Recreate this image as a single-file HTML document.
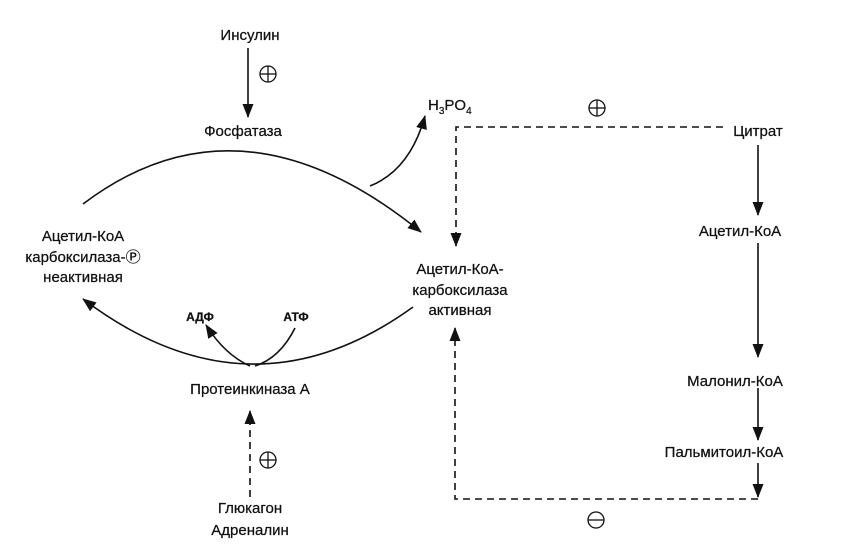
<!DOCTYPE html>
<html><head><meta charset="utf-8"><style>
html,body{margin:0;padding:0;background:#fff;}
svg{display:block;}
text{font-family:"Liberation Sans",sans-serif;font-size:15px;fill:#111;stroke:#111;stroke-width:0.25;}
</style></head><body>
<svg width="851" height="547" viewBox="0 0 851 547" xmlns="http://www.w3.org/2000/svg">
<defs>
<marker id="b" markerWidth="14" markerHeight="12" refX="13" refY="6" orient="auto" markerUnits="userSpaceOnUse">
<path d="M0,0.5 L14,6 L0,11.5 z" fill="#111"/></marker>
</defs>
<g stroke="#111" stroke-width="1.6" fill="none">
<line x1="248" y1="48" x2="248" y2="117" marker-end="url(#b)"/>
<path d="M83,204 Q240,85 421,232" marker-end="url(#b)"/>
<path d="M370,186 Q410,170 425,116" marker-end="url(#b)"/>
<path d="M413,307 Q250,425 83,299" marker-end="url(#b)"/>
<path d="M250,366 Q225,355 206,325" marker-end="url(#b)"/>
<path d="M295,328 Q280,358 255,366"/>
<line x1="758" y1="145" x2="758" y2="215" marker-end="url(#b)"/>
<line x1="758" y1="243" x2="758" y2="357" marker-end="url(#b)"/>
<line x1="758" y1="388" x2="758" y2="440" marker-end="url(#b)"/>
<line x1="758" y1="463" x2="758" y2="497" marker-end="url(#b)"/>
<g stroke-dasharray="7,5">
<path d="M723,127 L456,127 L456,246" marker-end="url(#b)"/>
<path d="M758,499 L455,499 L455,328" marker-end="url(#b)"/>
<line x1="250" y1="497" x2="250" y2="411" marker-end="url(#b)"/>
</g>
</g>
<g stroke="#111" stroke-width="1.3" fill="none">
<circle cx="268" cy="74" r="8"/><line x1="260" y1="74" x2="276" y2="74"/><line x1="268" y1="66" x2="268" y2="82"/>
<circle cx="597" cy="108" r="8"/><line x1="589" y1="108" x2="605" y2="108"/><line x1="597" y1="100" x2="597" y2="116"/>
<circle cx="268" cy="460" r="8"/><line x1="260" y1="460" x2="276" y2="460"/><line x1="268" y1="452" x2="268" y2="468"/>
<circle cx="596" cy="520" r="8"/><line x1="588" y1="520" x2="604" y2="520"/>
</g>
<g text-anchor="middle">
<text x="250" y="40">Инсулин</text>
<text x="243" y="136">Фосфатаза</text>
<text x="83" y="241">Ацетил-КоА</text>
<text x="83" y="262">карбоксилаза-Ⓟ</text>
<text x="83" y="282">неактивная</text>
<text x="460" y="274">Ацетил-КоА-</text>
<text x="460" y="295">карбоксилаза</text>
<text x="460" y="315">активная</text>
<text x="758" y="136">Цитрат</text>
<text x="740" y="236">Ацетил-КоА</text>
<text x="735" y="386">Малонил-КоА</text>
<text x="724" y="457">Пальмитоил-КоА</text>
<text x="200" y="321" font-weight="bold" style="font-size:12px">АДФ</text>
<text x="296" y="321" font-weight="bold" style="font-size:12px">АТФ</text>
<text x="250" y="394">Протеинкиназа А</text>
<text x="250" y="513">Глюкагон</text>
<text x="250" y="535">Адреналин</text>
</g>
<text x="428" y="110">H<tspan dy="4" style="font-size:10px">3</tspan><tspan dy="-4">PO</tspan><tspan dy="4" style="font-size:10px">4</tspan></text>
</svg>
</body></html>
